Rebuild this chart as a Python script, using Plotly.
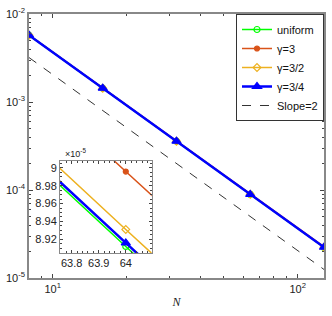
import plotly.graph_objects as go
import numpy as np

N = [8, 16, 32, 64, 128]
uniform = [5.74e-3, 1.435e-3, 3.587e-4, 8.912e-5, 2.23e-5]
gamma3 = [5.76e-3, 1.44e-3, 3.60e-4, 8.996e-5, 2.27e-5]
gamma32 = [5.745e-3, 1.437e-3, 3.59e-4, 8.931e-5, 2.24e-5]
gamma34 = [5.742e-3, 1.436e-3, 3.588e-4, 8.916e-5, 2.235e-5]
slope_ref = [3.2e-3, 8.0e-4, 2.0e-4, 5.0e-5, 1.25e-5]

names = ["uniform", "γ=3", "γ=3/2", "γ=3/4"]
colors = ["#00FF00", "#D95319", "#EDB120", "#0000FF"]
symbols = ["circle-open", "circle", "diamond-open", "triangle-up"]
widths = [1.5, 1.5, 1.5, 2.5]
msizes = [6, 5, 6, 8]
series = [uniform, gamma3, gamma32, gamma34]

inset_x_ticks = [63.8, 63.9, 64.0]
inset_x_text = ["63.8", "63.9", "64"]
inset_y_ticks = [8.92e-5, 8.94e-5, 8.96e-5, 8.98e-5, 9.0e-5]
inset_y_text = ["8.92", "8.94", "8.96", "8.98", "9"]

fig = go.Figure()
for nm, c, s, w, ms, ys in zip(names, colors, symbols, widths, msizes, series):
    fig.add_trace(go.Scatter(x=N, y=ys, name=nm, mode="lines+markers",
                             line=dict(color=c, width=w),
                             marker=dict(symbol=s, size=ms, color=c, line=dict(color=c, width=1.2)),
                             xaxis="x", yaxis="y"))
fig.add_trace(go.Scatter(x=N, y=slope_ref, name="Slope=2", mode="lines",
                         line=dict(color="#333333", width=1, dash="dash"),
                         xaxis="x", yaxis="y"))
# inset
for nm, c, s, w, ms, ys in zip(names, colors, symbols, widths, msizes, series):
    fig.add_trace(go.Scatter(x=N, y=ys, mode="lines+markers", showlegend=False,
                             line=dict(color=c, width=w),
                             marker=dict(symbol=s, size=ms, color=c, line=dict(color=c, width=1.2)),
                             xaxis="x2", yaxis="y2"))

axcol = "#888888"
fs = dict(family="Liberation Sans, Arial", size=11, color="#222222")
fig.update_layout(
    width=332, height=316,
    margin=dict(l=21, r=6, t=12, b=38),
    paper_bgcolor="white", plot_bgcolor="white",
    font=fs,
    showlegend=True,
    legend=dict(x=1, xanchor="right", y=1, yanchor="top", bgcolor="white",
                bordercolor="#333333", borderwidth=1, tracegroupgap=0,
                font=dict(family="Liberation Sans, Arial", size=11, color="#111111"),
                itemwidth=30),
    xaxis=dict(type="log", range=[np.log10(8), np.log10(128)], domain=[0, 1],
               tickvals=[10, 100], ticktext=["10<sup>1</sup>", "10<sup>2</sup>"],
               ticks="inside", ticklen=4, showline=True, linecolor=axcol, linewidth=1.5,
               mirror="ticks", showgrid=False, zeroline=False,
               minor=dict(ticks="inside", ticklen=2, tickvals=[9, 20, 30, 40, 50, 60, 70, 80, 90], showgrid=False),
               title=dict(text="<i>N</i>", font=dict(family="Liberation Serif", size=12), standoff=4),
               tickfont=fs),
    yaxis=dict(type="log", range=[-5, -2], domain=[0, 1],
               tickvals=[1e-5, 1e-4, 1e-3, 1e-2],
               ticktext=["10<sup>-5</sup>", "10<sup>-4</sup>", "10<sup>-3</sup>", "10<sup>-2</sup>"],
               ticks="inside", ticklen=4, showline=True, linecolor=axcol, linewidth=1.5,
               mirror="ticks", showgrid=False, zeroline=False,
               minor=dict(ticks="inside", ticklen=2, showgrid=False,
                          tickvals=[k * 10.0 ** e for e in (-5, -4, -3) for k in range(2, 10)]),
               tickfont=fs),
    xaxis2=dict(type="log", range=[np.log10(63.757), np.log10(64.096)], domain=[0.105, 0.416],
                anchor="y2", tickvals=inset_x_ticks, ticktext=inset_x_text,
                ticks="inside", ticklen=3, showline=True, linecolor=axcol, linewidth=1,
                mirror="ticks", showgrid=False, zeroline=False,
                minor=dict(ticks="inside", ticklen=2, showgrid=False,
                           tickvals=[63.76 + 0.02 * k for k in range(17)]),
                tickfont=fs),
    yaxis2=dict(type="log", range=[np.log10(8.9045e-5), np.log10(9.008e-5)], domain=[0.094, 0.4436],
                anchor="x2", tickvals=inset_y_ticks, ticktext=inset_y_text,
                ticks="inside", ticklen=3, showline=True, linecolor=axcol, linewidth=1,
                mirror="ticks", showgrid=False, zeroline=False,
                minor=dict(ticks="inside", ticklen=2, showgrid=False,
                           tickvals=[8.905e-5 + 0.005e-5 * k for k in range(21)]),
                tickfont=fs),
    annotations=[dict(text="×10<sup>-5</sup>", xref="paper", yref="paper", x=0.115, y=0.4436,
                      xanchor="left", yanchor="bottom", showarrow=False,
                      font=dict(family="Liberation Sans, Arial", size=9, color="#222222"))],
)
fig.write_html("out.html", config={"displayModeBar": False},
               post_script="document.body.style.margin='0';document.body.style.padding='0';")
